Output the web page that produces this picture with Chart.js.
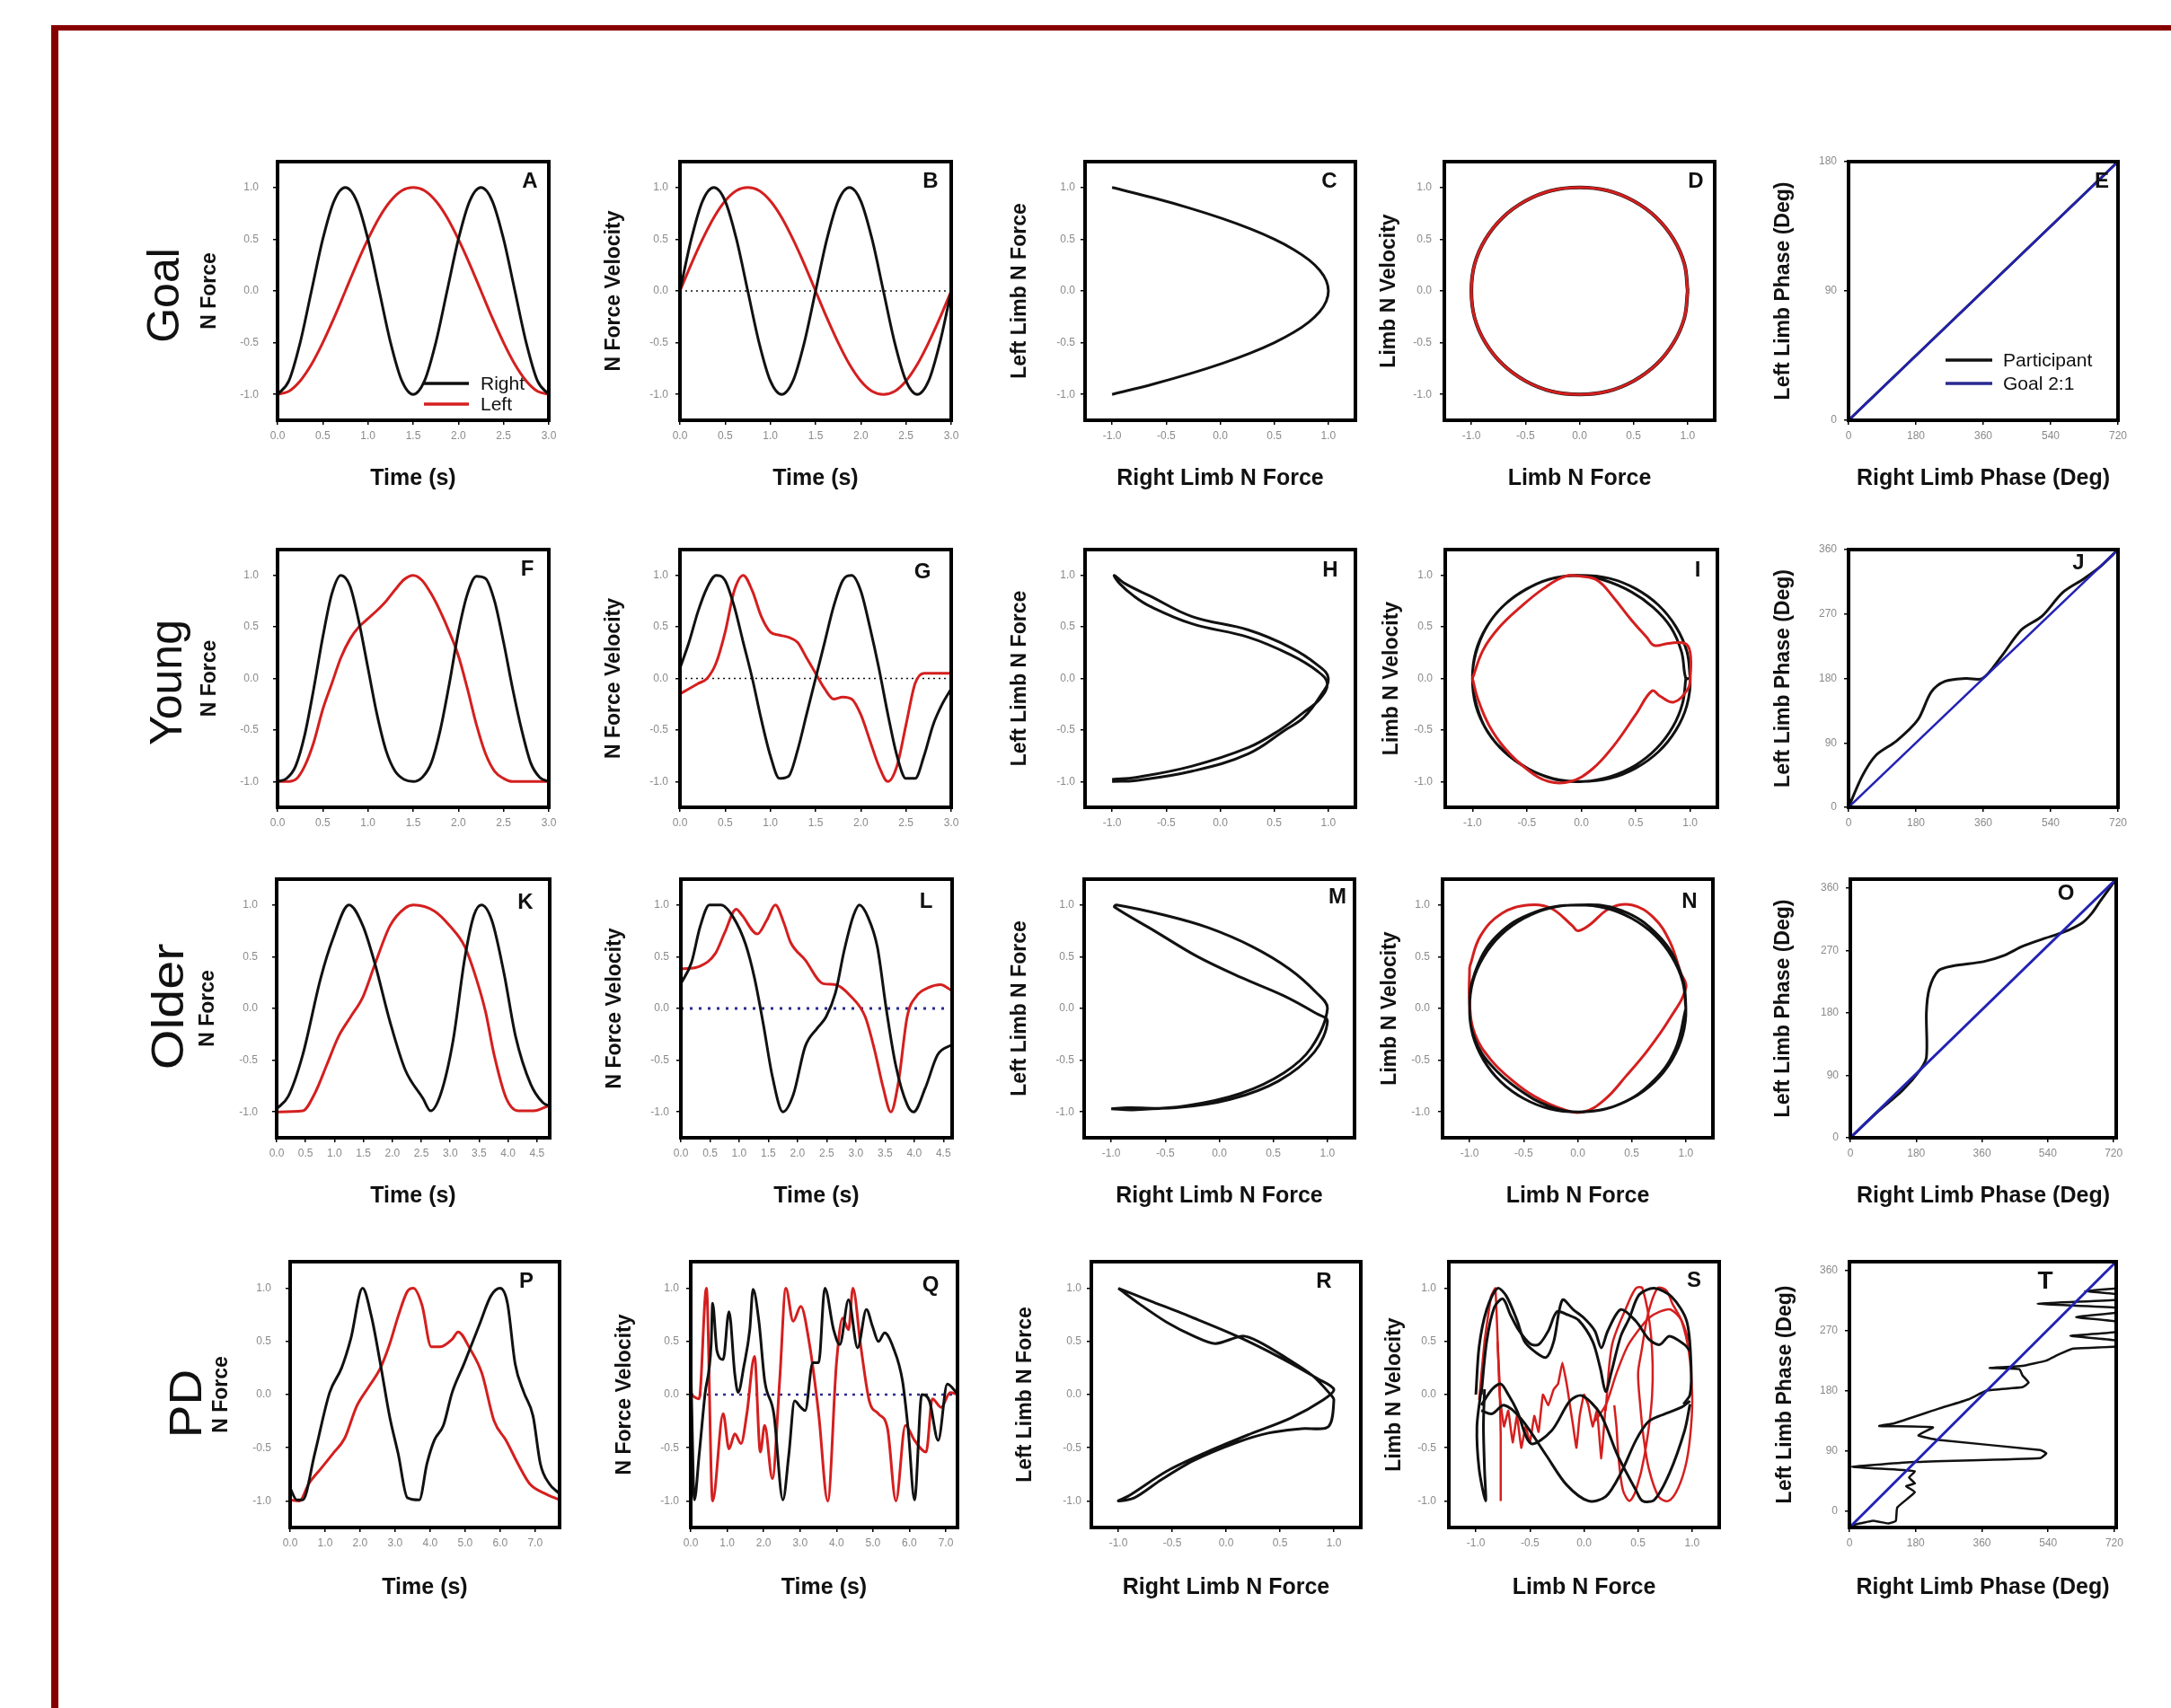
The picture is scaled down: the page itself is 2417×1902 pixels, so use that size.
<!DOCTYPE html>
<html>
<head>
<meta charset="utf-8">
<title>Bimanual force coordination: Goal, Young, Older, PD</title>
<script src="https://cdn.jsdelivr.net/npm/chart.js@4.4.1/dist/chart.umd.min.js"></script>
<style>
html,body{margin:0;padding:0;background:#ffffff;}
body{position:relative;width:2417px;height:1902px;overflow:hidden;font-family:"Liberation Sans",Arial,Helvetica,sans-serif;}
.frame{position:absolute;background:#870000;}
canvas{position:absolute;}
.rowlab{position:absolute;white-space:nowrap;color:#111;font-size:50px;line-height:1;}
</style>
</head>
<body>
<div class="frame" style="left:57px;top:28px;width:2360px;height:6px"></div>
<div class="frame" style="left:57px;top:28px;width:8px;height:1874px"></div>
<script>
// ---------------- DATA ----------------
const ROW_LABELS = ['Goal', 'Young', 'Older', 'PD'];
const Y_TITLES = ['N Force', 'N Force Velocity', 'Left Limb N Force', 'Limb N Velocity', 'Left Limb Phase (Deg)'];
const X_TITLES = ['Time (s)', 'Time (s)', 'Right Limb N Force', 'Limb N Force', 'Right Limb Phase (Deg)'];
const LETTERS = ['A','B','C','D','E','F','G','H','I','J','K','L','M','N','O','P','Q','R','S','T'];

const FORCE_TICKS = [-1.0, -0.5, 0.0, 0.5, 1.0];
const TIME3_TICKS = [0.0, 0.5, 1.0, 1.5, 2.0, 2.5, 3.0];
const TIME45_TICKS = [0.0, 0.5, 1.0, 1.5, 2.0, 2.5, 3.0, 3.5, 4.0, 4.5];
const TIME7_TICKS = [0.0, 1.0, 2.0, 3.0, 4.0, 5.0, 6.0, 7.0];
const PHASE_X_TICKS = [0, 180, 360, 540, 720];
const PHASE_Y180_TICKS = [0, 90, 180];
const PHASE_Y360_TICKS = [0, 90, 180, 270, 360];

// Goal
const A_t = [0,0.125,0.25,0.375,0.5,0.625,0.75,0.875,1,1.125,1.25,1.375,1.5,1.625,1.75,1.875,2,2.125,2.25,2.375,2.5,2.625,2.75,2.875,3];
const A_right = [-1,-0.87,-0.5,0,0.5,0.87,1,0.87,0.5,0,-0.5,-0.87,-1,-0.87,-0.5,0,0.5,0.87,1,0.87,0.5,0,-0.5,-0.87,-1];
const A_left = [-1,-0.97,-0.87,-0.71,-0.5,-0.26,0,0.26,0.5,0.71,0.87,0.97,1,0.97,0.87,0.71,0.5,0.26,0,-0.26,-0.5,-0.71,-0.87,-0.97,-1];
const B_t = [0,0.125,0.25,0.375,0.5,0.625,0.75,0.875,1,1.125,1.25,1.375,1.5,1.625,1.75,1.875,2,2.125,2.25,2.375,2.5,2.625,2.75,2.875,3];
const B_right = [0,0.5,0.87,1,0.87,0.5,0,-0.5,-0.87,-1,-0.87,-0.5,0,0.5,0.87,1,0.87,0.5,0,-0.5,-0.87,-1,-0.87,-0.5,0];
const B_left = [0,0.26,0.5,0.71,0.87,0.97,1,0.97,0.87,0.71,0.5,0.26,0,-0.26,-0.5,-0.71,-0.87,-0.97,-1,-0.97,-0.87,-0.71,-0.5,-0.26,0];
const B_zeroT = [0, 3];
const B_zeroY = [0, 0];
const C_x = [-1,-0.62,-0.28,0.02,0.28,0.5,0.68,0.82,0.92,0.98,1,0.98,0.92,0.82,0.68,0.5,0.28,0.02,-0.28,-0.62,-1];
const C_y = [1,0.9,0.8,0.7,0.6,0.5,0.4,0.3,0.2,0.1,0,-0.1,-0.2,-0.3,-0.4,-0.5,-0.6,-0.7,-0.8,-0.9,-1];
const D_x = [1,0.97,0.87,0.71,0.5,0.26,0,-0.26,-0.5,-0.71,-0.87,-0.97,-1,-0.97,-0.87,-0.71,-0.5,-0.26,0,0.26,0.5,0.71,0.87,0.97,1];
const D_y = [0,0.26,0.5,0.71,0.87,0.97,1,0.97,0.87,0.71,0.5,0.26,0,-0.26,-0.5,-0.71,-0.87,-0.97,-1,-0.97,-0.87,-0.71,-0.5,-0.26,0];
const E_partX = [0, 180, 360, 540, 720];
const E_partY = [0, 45, 90, 135, 180];
const E_goalX = [0, 720];
const E_goalY = [0, 180];

// Young
const F_t = [0,0.1,0.2,0.3,0.4,0.5,0.6,0.7,0.8,0.9,1.0,1.1,1.2,1.3,1.4,1.5,1.6,1.7,1.8,1.9,2.0,2.1,2.2,2.3,2.4,2.5,2.6,2.7,2.8,2.9,3.0];
const F_right = [-1.0,-0.97,-0.85,-0.55,-0.1,0.4,0.82,1.0,0.9,0.55,0.1,-0.35,-0.7,-0.9,-0.98,-1.0,-0.96,-0.82,-0.5,-0.05,0.45,0.82,0.99,0.97,0.75,0.35,-0.1,-0.5,-0.82,-0.96,-1.0];
const F_left = [-1,-1,-0.98,-0.85,-0.62,-0.3,-0.05,0.2,0.38,0.5,0.58,0.66,0.75,0.86,0.96,1.0,0.95,0.82,0.65,0.45,0.22,-0.1,-0.45,-0.73,-0.9,-0.97,-1,-1,-1,-1,-1];
const G_t = [0,0.1,0.2,0.3,0.4,0.5,0.6,0.7,0.8,0.9,1.0,1.1,1.2,1.3,1.4,1.5,1.6,1.7,1.8,1.9,2.0,2.1,2.2,2.3,2.4,2.5,2.6,2.7,2.8,2.9,3.0];
const G_right = [0.1,0.35,0.65,0.88,1.0,0.95,0.7,0.35,0.0,-0.4,-0.75,-0.97,-0.95,-0.7,-0.35,0.0,0.35,0.7,0.95,1.0,0.85,0.5,0.1,-0.35,-0.75,-0.97,-0.97,-0.75,-0.45,-0.25,-0.1];
const G_left = [-0.15,-0.1,-0.05,0.0,0.15,0.45,0.85,1.0,0.85,0.6,0.45,0.42,0.4,0.35,0.2,0.05,-0.1,-0.2,-0.18,-0.2,-0.35,-0.6,-0.85,-1.0,-0.85,-0.45,-0.05,0.05,0.05,0.05,0.05];
const G_zeroT = [0, 3];
const G_zeroY = [0, 0];
const H_x = [-1,-0.78,-0.26,0.26,0.6,0.77,0.92,1.0,0.9,0.65,0.26,-0.26,-0.65,-0.88,-0.98,-0.93,-0.8,-0.65,-0.26,0.26,0.65,0.9,0.99,0.92,0.77,0.55,0.26,-0.26,-0.78,-1];
const H_y = [-1,-0.99,-0.9,-0.73,-0.5,-0.38,-0.18,0.0,0.13,0.3,0.47,0.6,0.8,0.92,1.0,0.92,0.8,0.7,0.53,0.4,0.23,0.07,-0.05,-0.2,-0.33,-0.5,-0.67,-0.85,-0.96,-0.98];
const I_rightX = [1,0.97,0.87,0.71,0.5,0.26,0,-0.26,-0.5,-0.71,-0.87,-0.97,-1,-0.97,-0.87,-0.71,-0.5,-0.26,0,0.26,0.5,0.71,0.87,0.97,1,
                  0.96,0.92,0.82,0.66,0.46,0.22,-0.04,-0.3,-0.53,-0.73,-0.88,-0.97,-1,-0.96,-0.86,-0.69,-0.48,-0.24,0.02,0.27,0.5,0.69,0.84,0.93,0.96];
const I_rightY = [0,0.26,0.5,0.71,0.87,0.97,1,0.97,0.87,0.71,0.5,0.26,0,-0.26,-0.5,-0.71,-0.87,-0.97,-1,-0.97,-0.87,-0.71,-0.5,-0.26,0,
                  0,0.26,0.5,0.69,0.84,0.95,1.0,0.96,0.85,0.69,0.48,0.24,0,-0.27,-0.52,-0.72,-0.88,-0.98,-1.0,-0.95,-0.84,-0.68,-0.47,-0.24,0];
const I_leftX = [-1.0,-0.9,-0.75,-0.55,-0.35,-0.15,0.0,0.15,0.3,0.45,0.6,0.67,0.8,0.95,1.0,1.0,0.98,0.85,0.72,0.65,0.5,0.3,0.1,-0.1,-0.3,-0.5,-0.7,-0.85,-0.95,-1.0];
const I_leftY = [0.0,0.28,0.5,0.7,0.87,0.99,0.99,0.95,0.78,0.58,0.4,0.32,0.34,0.34,0.25,0.0,-0.1,-0.23,-0.17,-0.12,-0.35,-0.65,-0.88,-1.0,-1.0,-0.88,-0.68,-0.45,-0.2,0.0];
const J_partX = [0,37,74,129,185,221,258,314,358,406,462,517,572,628,670,720];
const J_partY = [0,44,73,93,122,161,176,180,180,209,248,267,300,319,335,360];
const J_goalX = [0, 720];
const J_goalY = [0, 360];

// Older
const K_rightT = [0,0.2,0.45,0.76,0.97,1.25,1.49,1.7,1.96,2.22,2.53,2.66,2.84,3.05,3.25,3.41,3.54,3.72,3.93,4.13,4.39,4.6,4.7];
const K_rightY = [-0.97,-0.85,-0.45,0.29,0.67,1.0,0.8,0.43,-0.13,-0.59,-0.87,-0.99,-0.82,-0.31,0.48,0.9,1.0,0.85,0.34,-0.27,-0.73,-0.91,-0.94];
const K_leftT = [0,0.45,0.66,0.87,1.07,1.28,1.49,1.7,1.96,2.22,2.37,2.73,2.99,3.25,3.45,3.61,3.76,3.97,4.18,4.44,4.7];
const K_leftY = [-1,-0.99,-0.82,-0.54,-0.27,-0.08,0.11,0.43,0.8,0.97,1.0,0.94,0.8,0.6,0.29,-0.03,-0.45,-0.87,-0.99,-0.99,-0.94];
const L_rightT = [0,0.18,0.33,0.49,0.69,0.9,1.11,1.26,1.41,1.57,1.75,1.93,2.13,2.34,2.49,2.65,2.8,2.96,3.06,3.21,3.37,3.52,3.68,3.88,3.99,4.19,4.4,4.65];
const L_rightY = [0.24,0.44,0.79,1.0,1.0,0.88,0.62,0.3,-0.14,-0.66,-1.0,-0.83,-0.37,-0.19,-0.08,0.15,0.56,0.9,1.0,0.88,0.59,0.0,-0.54,-0.93,-1.0,-0.77,-0.45,-0.35];
const L_leftT = [0,0.33,0.59,0.75,0.95,1.05,1.31,1.47,1.62,1.77,1.88,2.13,2.44,2.65,2.91,3.16,3.32,3.47,3.6,3.73,3.88,4.04,4.24,4.45,4.65];
const L_leftY = [0.38,0.41,0.53,0.73,0.96,0.9,0.72,0.85,1.0,0.82,0.64,0.47,0.24,0.23,0.12,-0.08,-0.4,-0.77,-1.0,-0.71,-0.08,0.12,0.2,0.23,0.17];
const L_zeroT = [0, 4.65];
const L_zeroY = [0, 0];
const M_x = [-1,-0.8,-0.3,0.2,0.6,0.85,1.0,0.9,0.65,0.3,-0.1,-0.5,-0.95,-0.97,-0.6,-0.2,0.2,0.6,0.9,1.0,0.88,0.55,0.1,-0.4,-0.85,-1];
const M_y = [-0.97,-0.98,-0.94,-0.82,-0.62,-0.38,0.0,0.15,0.38,0.6,0.78,0.9,1.0,0.98,0.75,0.5,0.3,0.12,-0.05,-0.12,-0.42,-0.7,-0.88,-0.96,-0.96,-0.97];
const N_rightX = [1,0.97,0.87,0.71,0.5,0.26,0,-0.26,-0.5,-0.71,-0.87,-0.97,-1,-0.97,-0.87,-0.71,-0.5,-0.26,0,0.26,0.5,0.71,0.87,0.97,1,
                  0.95,0.75,0.4,0,-0.4,-0.75,-0.95,-1,-0.95,-0.8,-0.55,-0.25,0.05,0.4,0.7,0.9,1];
const N_rightY = [0,0.26,0.5,0.71,0.87,0.97,1,0.97,0.87,0.71,0.5,0.26,0,-0.26,-0.5,-0.71,-0.87,-0.97,-1,-0.97,-0.87,-0.71,-0.5,-0.26,0,
                  0.35,0.7,0.95,1.0,0.93,0.7,0.35,0.0,-0.3,-0.55,-0.78,-0.95,-1.0,-0.92,-0.7,-0.4,0];
const N_leftX = [-1,-0.9,-0.7,-0.45,-0.25,-0.05,0.0,0.1,0.3,0.5,0.7,0.85,0.95,1.0,0.85,0.65,0.45,0.25,0.05,-0.15,-0.4,-0.6,-0.8,-0.95,-1.0,-1];
const N_leftY = [0.4,0.7,0.92,1.0,0.97,0.8,0.75,0.8,0.97,1.0,0.88,0.65,0.35,0.2,-0.1,-0.4,-0.65,-0.88,-1.0,-0.97,-0.85,-0.7,-0.5,-0.25,0.05,0.4];
const O_partX = [0,76,142,191,208,208,216,241,282,364,421,470,528,585,634,659,683,724];
const O_partY = [0,38,68,98,116,181,215,241,248,254,263,276,287,297,310,323,341,371];
const O_goalX = [0, 727];
const O_goalY = [0, 373];

// PD
const P_rightT = [0,0.19,0.36,0.7,1.13,1.47,1.73,2.07,2.32,2.58,2.84,3.09,3.35,3.69,3.91,4.12,4.38,4.63,4.97,5.4,5.74,6.0,6.21,6.43,6.68,6.94,7.15,7.41,7.69];
const P_rightY = [-0.88,-0.99,-0.99,-0.56,0.02,0.25,0.52,1.0,0.74,0.29,-0.2,-0.56,-0.97,-0.99,-0.65,-0.43,-0.29,0.02,0.29,0.65,0.93,1.0,0.86,0.29,0.02,-0.2,-0.65,-0.84,-0.93];
const P_leftT = [0,0.27,0.53,0.87,1.21,1.56,1.9,2.24,2.58,2.84,3.09,3.35,3.52,3.77,4.03,4.29,4.63,4.8,5.14,5.48,5.83,6.17,6.51,6.85,7.28,7.69];
const P_leftY = [-0.99,-1.0,-0.84,-0.7,-0.56,-0.41,-0.11,0.07,0.25,0.47,0.74,0.97,1.0,0.84,0.45,0.45,0.52,0.59,0.43,0.2,-0.25,-0.43,-0.65,-0.84,-0.93,-0.99];
const Q_rightT = [0,0.07,0.1,0.23,0.39,0.56,0.6,0.72,0.89,1.05,1.21,1.3,1.46,1.62,1.71,1.87,2.03,2.28,2.53,2.69,2.85,3.02,3.14,3.35,3.51,3.68,3.92,4.09,4.33,4.58,4.82,4.99,5.15,5.32,5.56,5.81,5.97,6.14,6.34,6.55,6.79,7.04,7.33];
const Q_rightY = [0.36,-0.79,-0.99,-0.57,0,0.47,0.86,0.41,0.33,0.78,0.19,0.02,0.27,0.61,0.99,0.69,0.13,-0.18,-0.99,-0.57,-0.06,-0.12,-0.15,0.3,0.3,1.0,0.61,0.47,0.89,0.44,0.8,0.64,0.5,0.58,0.44,0.13,-0.34,-0.99,0.0,-0.06,-0.43,0.1,0.0];
const Q_leftT = [0,0.23,0.43,0.6,0.89,1.05,1.21,1.38,1.54,1.75,1.91,2.03,2.24,2.44,2.61,2.81,3.02,3.26,3.51,3.76,4.0,4.17,4.33,4.45,4.66,4.9,5.15,5.4,5.63,5.89,6.14,6.46,6.63,6.87,7.12,7.33];
const Q_leftY = [0,-0.04,1.0,-1.0,-0.18,-0.51,-0.37,-0.46,-0.18,0.36,-0.54,-0.29,-0.79,0.13,1.0,0.69,0.83,0.47,-0.18,-1.0,0.3,0.72,0.61,1.0,0.47,-0.06,-0.18,-0.32,-1.0,-0.29,-0.43,-0.54,-0.04,-0.12,0.02,0];
const Q_zeroT = [0, 7.32];
const Q_zeroY = [0, 0];
const R_x = [-1,-0.8,-0.55,-0.3,-0.1,0.15,0.3,0.55,0.8,0.97,1.0,0.95,0.7,0.4,0.1,-0.3,-0.6,-0.85,-1,-0.9,-0.55,-0.2,0.2,0.6,0.9,1.0,0.85,0.5,0.1,-0.3,-0.7,-1];
const R_y = [1.0,0.85,0.68,0.55,0.48,0.55,0.5,0.35,0.18,0.0,-0.05,-0.3,-0.32,-0.36,-0.45,-0.62,-0.8,-0.97,-1.0,-0.95,-0.72,-0.55,-0.38,-0.22,-0.05,0.05,0.15,0.35,0.55,0.72,0.88,1.0];
const S_black1X = [-1.0,-0.97,-0.9,-0.8,-0.72,-0.62,-0.55,-0.45,-0.35,-0.28,-0.2,-0.1,0.0,0.1,0.16,0.22,0.34,0.48,0.6,0.7,0.79,0.93,0.98];
const S_black1Y = [0.0,0.45,0.8,1.0,0.93,0.7,0.5,0.4,0.35,0.5,0.89,0.8,0.72,0.6,0.44,0.6,0.8,0.69,0.52,0.47,0.55,0.47,0.41];
const S_black2X = [-0.95,-0.9,-0.83,-0.75,-0.68,-0.6,-0.5,-0.42,-0.33,-0.25,-0.15,-0.05,0.08,0.15,0.2,0.25,0.34,0.42,0.51,0.65,0.81,0.95,0.99,0.98,0.92];
const S_black2Y = [0.0,0.5,0.82,0.9,0.75,0.6,0.48,0.47,0.6,0.78,0.75,0.7,0.5,0.25,0.03,0.2,0.55,0.72,0.94,1.0,0.92,0.69,0.27,0.0,-0.09];
const S_black3X = [-0.95,-0.85,-0.77,-0.7,-0.62,-0.49,-0.3,-0.13,-0.02,0.15,0.31,0.48,0.54,0.65,0.79,0.93,0.98];
const S_black3Y = [-0.1,0.05,0.1,0.0,-0.15,-0.46,-0.34,-0.06,-0.01,-0.18,-0.57,-0.9,-1.0,-0.99,-0.74,-0.34,-0.09];
const S_black4X = [-0.95,-0.85,-0.74,-0.58,-0.35,-0.16,0.04,0.2,0.34,0.48,0.59,0.7,0.9,0.98];
const S_black4Y = [-0.15,-0.18,-0.1,-0.23,-0.57,-0.85,-1.0,-0.96,-0.74,-0.43,-0.26,-0.2,-0.12,-0.06];
const S_black5X = [-0.95,-0.99,-0.97,-0.91,-0.92,-0.93,-0.92];
const S_black5Y = [0.05,-0.3,-0.7,-1.0,-0.7,-0.3,0.05];
const S_red1X = [-0.97,-0.92,-0.86,-0.82,-0.8,-0.78,-0.74,-0.7,-0.66,-0.62,-0.58,-0.54,-0.5,-0.46,-0.42,-0.38,-0.33,-0.28,-0.24,-0.2,-0.16,-0.13,-0.1,-0.07,-0.04,0.0,0.04,0.08,0.12,0.16,0.2];
const S_red1Y = [-0.05,0.5,0.92,1.0,0.55,0.0,-0.3,-0.15,-0.45,-0.2,-0.5,-0.3,-0.45,-0.2,-0.35,0.0,-0.1,0.05,0.1,0.3,0.1,-0.1,-0.3,-0.5,-0.2,0.0,-0.1,-0.3,-0.15,-0.6,-0.1];
const S_red2X = [-0.77,-0.77,-0.78,-0.8];
const S_red2Y = [-1.0,-0.4,0.1,0.5];
const S_red3X = [0.2,0.26,0.4,0.48,0.54,0.62,0.63,0.56,0.48,0.42,0.36,0.32,0.3,0.28];
const S_red3Y = [-0.15,0.47,0.84,1.0,1.0,0.55,0.0,-0.57,-0.9,-1.0,-0.9,-0.6,-0.3,-0.1];
const S_red4X = [0.53,0.59,0.68,0.76,0.82,0.9,0.97,1.0,0.99,0.95,0.87,0.78,0.69,0.6,0.55,0.52,0.5,0.53];
const S_red4Y = [0.4,0.75,1.0,0.98,0.85,0.7,0.4,0.0,-0.3,-0.62,-0.88,-1.0,-0.96,-0.7,-0.4,-0.1,0.2,0.4];
const S_red5X = [0.1,0.2,0.3,0.4,0.5,0.6,0.7,0.8,0.9,0.97];
const S_red5Y = [-0.25,-0.1,0.2,0.45,0.6,0.72,0.78,0.8,0.7,0.5];
const T_partX = [4,65,105,126,130,178,154,178,162,178,146,8,178,519,535,519,243,187,227,81,122,243,324,373,470,487,470,462,381,470,535,568,608,728,728,600,728,728,616,728,728,511,728,728,640,728];
const T_partY = [-22,-15,-19,-15,5,28,37,41,50,59,61,66,73,79,86,91,106,113,125,127,131,153,167,180,185,192,203,212,214,217,225,234,243,246,255,262,268,283,290,297,304,310,316,324,329,333];
const T_goalX = [0, 725];
const T_goalY = [-25, 373];

// ---------------- STYLE ----------------
const BLACK = '#111111', RED = '#d41f1f', BLUE = '#2222b4', NAVY = '#2a2a90';
const FONT = '"Liberation Sans", Arial, Helvetica, sans-serif';
Chart.defaults.font.family = FONT;

function pts(xs, ys) { return xs.map((x, i) => ({x: x, y: ys[i]})); }
function curve(xs, ys, color, extra) {
  return Object.assign({data: pts(xs, ys), borderColor: color, backgroundColor: color, showLine: true,
    pointRadius: 0, pointHoverRadius: 0, borderWidth: 3, tension: 0.4, fill: false}, extra || {});
}
function series(xs, ys, color) { return curve(xs, ys, color, {cubicInterpolationMode: 'monotone'}); }
function dotted(xs, ys, color, w, dash) { return curve(xs, ys, color, {tension: 0, borderWidth: w, borderDash: dash}); }

// ---------------- ROW LABELS ----------------
const ROW_LABEL_POS = [[182, 329, 1], [185, 760, 1], [187, 1121, 1.15], [207, 1563, 1.1]];
ROW_LABELS.forEach((t, i) => {
  const d = document.createElement('div');
  d.className = 'rowlab';
  d.textContent = t;
  d.style.left = ROW_LABEL_POS[i][0] + 'px';
  d.style.top = ROW_LABEL_POS[i][1] + 'px';
  d.style.transform = 'translate(-50%,-50%) rotate(-90deg) scaleX(' + ROW_LABEL_POS[i][2] + ')';
  document.body.appendChild(d);
});

// ---------------- PANELS ----------------
const ROW_Y = [[180, 468], [612, 899], [979, 1267], [1405, 1701]];
const COL_X = [
  [[309, 611], [757, 1059], [1208, 1509], [1608, 1909], [2058, 2358]],
  [[309, 611], [757, 1059], [1208, 1509], [1609, 1912], [2058, 2358]],
  [[308, 612], [758, 1060], [1207, 1508], [1606, 1907], [2060, 2356]],
  [[323, 623], [769, 1066], [1215, 1515], [1613, 1914], [2059, 2356]]
];
const Y_TITLE_X = [[234, 684, 1136, 1547, 1986], [234, 684, 1136, 1550, 1986], [232, 685, 1136, 1548, 1986], [247, 696, 1142, 1553, 1988]];
const X_TITLE_Y = [533, null, 1332, 1768];
const Y_TICK_PAD = [16, 8, 6, 9, 8];
const LETTER_POS = [[590,202],[1036,202],[1480,202],[1888,202],[2340,202],
                    [587,634],[1027,637],[1481,635],[1890,635],[2314,627],
                    [585,1005],[1031,1004],[1489,999],[1881,1004],[2300,995],
                    [586,1427],[1036,1431],[1474,1427],[1886,1426],[2277,1427]];

const F_RANGE = [-1.25, 1.25];
const PANEL_DEFS = [
  // Goal
  {xr: [0, 3], yr: F_RANGE, xt: TIME3_TICKS, yt: FORCE_TICKS, xd: 1, yd: 1,
   ds: () => [series(A_t, A_right, BLACK), series(A_t, A_left, RED)],
   legend: {items: [['Right', BLACK], ['Left', RED]], x0: 472, x1: 522, tx: 535, ys: [427, 450]}},
  {xr: [0, 3], yr: F_RANGE, xt: TIME3_TICKS, yt: FORCE_TICKS, xd: 1, yd: 1,
   ds: () => [series(B_t, B_right, BLACK), series(B_t, B_left, RED), dotted(B_zeroT, B_zeroY, BLACK, 1.5, [2, 4])]},
  {xr: F_RANGE, yr: F_RANGE, xt: FORCE_TICKS, yt: FORCE_TICKS, xd: 1, yd: 1,
   ds: () => [curve(C_x, C_y, BLACK)]},
  {xr: F_RANGE, yr: F_RANGE, xt: FORCE_TICKS, yt: FORCE_TICKS, xd: 1, yd: 1,
   ds: () => [curve(D_x, D_y, RED), curve(D_x, D_y, BLACK, {borderWidth: 4})]},
  {xr: [0, 720], yr: [0, 180], xt: PHASE_X_TICKS, yt: PHASE_Y180_TICKS, xd: 0, yd: 0,
   ds: () => [curve(E_goalX, E_goalY, BLUE, {tension: 0, borderWidth: 2.5}), curve(E_partX, E_partY, BLACK, {tension: 0})],
   legend: {items: [['Participant', BLACK], ['Goal 2:1', NAVY]], x0: 2166, x1: 2218, tx: 2230, ys: [401, 427]}},
  // Young
  {xr: [0, 3], yr: F_RANGE, xt: TIME3_TICKS, yt: FORCE_TICKS, xd: 1, yd: 1,
   ds: () => [series(F_t, F_right, BLACK), series(F_t, F_left, RED)]},
  {xr: [0, 3], yr: F_RANGE, xt: TIME3_TICKS, yt: FORCE_TICKS, xd: 1, yd: 1,
   ds: () => [series(G_t, G_right, BLACK), series(G_t, G_left, RED), dotted(G_zeroT, G_zeroY, BLACK, 1.5, [2, 4])]},
  {xr: F_RANGE, yr: F_RANGE, xt: FORCE_TICKS, yt: FORCE_TICKS, xd: 1, yd: 1,
   ds: () => [curve(H_x, H_y, BLACK)]},
  {xr: F_RANGE, yr: F_RANGE, xt: FORCE_TICKS, yt: FORCE_TICKS, xd: 1, yd: 1,
   ds: () => [curve(I_leftX, I_leftY, RED), curve(I_rightX, I_rightY, BLACK)]},
  {xr: [0, 720], yr: [0, 360], xt: PHASE_X_TICKS, yt: PHASE_Y360_TICKS, xd: 0, yd: 0,
   ds: () => [curve(J_goalX, J_goalY, BLUE, {tension: 0, borderWidth: 2.5}), curve(J_partX, J_partY, BLACK, {tension: 0.3})]},
  // Older
  {xr: [0, 4.72], yr: F_RANGE, xt: TIME45_TICKS, yt: FORCE_TICKS, xd: 1, yd: 1,
   ds: () => [series(K_rightT, K_rightY, BLACK), series(K_leftT, K_leftY, RED)]},
  {xr: [0, 4.65], yr: F_RANGE, xt: TIME45_TICKS, yt: FORCE_TICKS, xd: 1, yd: 1,
   ds: () => [series(L_rightT, L_rightY, BLACK), series(L_leftT, L_leftY, RED), dotted(L_zeroT, L_zeroY, NAVY, 3, [3, 7])]},
  {xr: F_RANGE, yr: F_RANGE, xt: FORCE_TICKS, yt: FORCE_TICKS, xd: 1, yd: 1,
   ds: () => [curve(M_x, M_y, BLACK, {tension: 0.35})]},
  {xr: F_RANGE, yr: F_RANGE, xt: FORCE_TICKS, yt: FORCE_TICKS, xd: 1, yd: 1,
   ds: () => [curve(N_rightX, N_rightY, BLACK), curve(N_leftX, N_leftY, RED)]},
  {xr: [0, 727], yr: [0, 373], xt: PHASE_X_TICKS, yt: PHASE_Y360_TICKS, xd: 0, yd: 0,
   ds: () => [curve(O_goalX, O_goalY, BLUE, {tension: 0, borderWidth: 3}), curve(O_partX, O_partY, BLACK, {tension: 0.3})]},
  // PD
  {xr: [0, 7.7], yr: F_RANGE, xt: TIME7_TICKS, yt: FORCE_TICKS, xd: 1, yd: 1,
   ds: () => [series(P_rightT, P_rightY, BLACK), series(P_leftT, P_leftY, RED)]},
  {xr: [0, 7.32], yr: F_RANGE, xt: TIME7_TICKS, yt: FORCE_TICKS, xd: 1, yd: 1,
   ds: () => [series(Q_rightT, Q_rightY, BLACK), series(Q_leftT, Q_leftY, RED), dotted(Q_zeroT, Q_zeroY, NAVY, 2.5, [3, 6])]},
  {xr: F_RANGE, yr: F_RANGE, xt: FORCE_TICKS, yt: FORCE_TICKS, xd: 1, yd: 1,
   ds: () => [curve(R_x, R_y, BLACK, {tension: 0.3})]},
  {xr: F_RANGE, yr: F_RANGE, xt: FORCE_TICKS, yt: FORCE_TICKS, xd: 1, yd: 1,
   ds: () => [curve(S_black1X, S_black1Y, BLACK, {tension: 0.3}), curve(S_black2X, S_black2Y, BLACK, {tension: 0.3}),
              curve(S_black3X, S_black3Y, BLACK, {tension: 0.3}), curve(S_black4X, S_black4Y, BLACK, {tension: 0.3}),
              curve(S_black5X, S_black5Y, BLACK, {tension: 0.3}),
              curve(S_red1X, S_red1Y, RED, {tension: 0.1, borderWidth: 2.5}), curve(S_red2X, S_red2Y, RED, {tension: 0, borderWidth: 2.5}),
              curve(S_red3X, S_red3Y, RED, {tension: 0.3, borderWidth: 2.5}), curve(S_red4X, S_red4Y, RED, {tension: 0.3, borderWidth: 2.5}),
              curve(S_red5X, S_red5Y, RED, {tension: 0.3, borderWidth: 2.5})]},
  {xr: [0, 725], yr: [-25, 373], xt: PHASE_X_TICKS, yt: PHASE_Y360_TICKS, xd: 0, yd: 0,
   ds: () => [curve(T_goalX, T_goalY, BLUE, {tension: 0, borderWidth: 3}), curve(T_partX, T_partY, BLACK, {tension: 0.12, borderWidth: 2.5})]}
];

const Y_TITLE_SIZE = 23, X_TITLE_SIZE = 25;

PANEL_DEFS.forEach((p, idx) => {
  const row = Math.floor(idx / 5), col = idx % 5;
  const L = COL_X[row][col][0], R = COL_X[row][col][1];
  const T = ROW_Y[row][0], B = ROW_Y[row][1];
  const yTitleX = Y_TITLE_X[row][col];
  const xTitleY = X_TITLE_Y[row];
  const padL = Math.round(L - yTitleX + Y_TITLE_SIZE * 1.2 / 2);
  const padB = xTitleY ? Math.round(xTitleY - B + X_TITLE_SIZE * 1.2 / 2) : 40;
  const padT = 28, padR = 28;
  const cw = (R - L) + padL + padR, ch = (B - T) + padT + padB;
  const cl = L - padL, ct = T - padT;
  const cv = document.createElement('canvas');
  cv.width = cw; cv.height = ch;
  cv.style.left = cl + 'px'; cv.style.top = ct + 'px';
  cv.style.width = cw + 'px'; cv.style.height = ch + 'px';
  document.body.appendChild(cv);

  const letter = LETTERS[idx];
  const lp = LETTER_POS[idx];
  const decor = {
    id: 'decor' + letter,
    afterDatasetsDraw(chart) {
      const ctx = chart.ctx, a = chart.chartArea;
      ctx.save();
      ctx.lineWidth = 4; ctx.strokeStyle = '#000';
      ctx.strokeRect(a.left, a.top, a.right - a.left, a.bottom - a.top);
      ctx.fillStyle = '#111';
      ctx.font = 'bold ' + (letter === 'T' ? 28 : 24) + 'px ' + FONT;
      ctx.textAlign = 'center'; ctx.textBaseline = 'middle';
      ctx.fillText(letter, lp[0] - cl, lp[1] - ct);
      if (p.legend) {
        ctx.font = '21px ' + FONT;
        ctx.textAlign = 'left';
        p.legend.items.forEach((it, k) => {
          const y = p.legend.ys[k] - ct;
          ctx.strokeStyle = it[1]; ctx.lineWidth = 3.5;
          ctx.beginPath(); ctx.moveTo(p.legend.x0 - cl, y); ctx.lineTo(p.legend.x1 - cl, y); ctx.stroke();
          ctx.fillStyle = '#111';
          ctx.fillText(it[0], p.legend.tx - cl, y + 1);
        });
      }
      ctx.restore();
    }
  };

  const tickFont = {size: 12, family: FONT};
  const grid = {display: true, drawOnChartArea: false, drawTicks: true, tickLength: 5, color: '#000', lineWidth: 1.5};
  new Chart(cv, {
    type: 'scatter',
    data: {datasets: p.ds()},
    options: {
      responsive: false, animation: false, devicePixelRatio: 1,
      layout: {padding: {left: 0, top: padT, right: padR, bottom: 0}},
      plugins: {legend: {display: false}, tooltip: {enabled: false}},
      scales: {
        x: {
          type: 'linear', position: 'bottom', min: p.xr[0], max: p.xr[1],
          afterBuildTicks: ax => { ax.ticks = p.xt.map(v => ({value: v})); },
          afterFit: s => { s.height = padB; },
          ticks: {callback: v => Number(v).toFixed(p.xd), font: tickFont, color: '#8a8a8a', padding: 5,
                  autoSkip: false, maxRotation: 0, minRotation: 0},
          grid: grid, border: {display: false},
          title: {display: !!xTitleY, text: X_TITLES[col], color: '#111', padding: 0,
                  font: {size: X_TITLE_SIZE, weight: 'bold', family: FONT}}
        },
        y: {
          type: 'linear', position: 'left', min: p.yr[0], max: p.yr[1],
          afterBuildTicks: ax => { ax.ticks = p.yt.map(v => ({value: v})); },
          afterFit: s => { s.width = padL; },
          ticks: {callback: v => Number(v).toFixed(p.yd), font: tickFont, color: '#8a8a8a', padding: Y_TICK_PAD[col],
                  autoSkip: false},
          grid: grid, border: {display: false},
          title: {display: true, text: Y_TITLES[col], color: '#111', padding: 0,
                  font: {size: Y_TITLE_SIZE, weight: 'bold', family: FONT}}
        }
      }
    },
    plugins: [decor]
  });
});
</script>
</body>
</html>
